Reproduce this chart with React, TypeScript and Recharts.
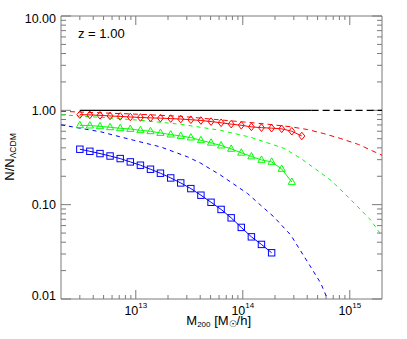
import React from 'react'
import { ComposedChart, Line, XAxis, YAxis, ReferenceArea, ReferenceLine } from 'recharts'

// halo mass bins (M200 in Msun/h) for the simulation points
const mass = [
  3.0e12, 3.72e12, 4.63e12, 5.75e12, 7.15e12, 8.89e12, 1.105e13, 1.372e13,
  1.7e13, 2.12e13, 2.63e13, 3.27e13, 4.06e13, 5.05e13, 6.27e13, 7.79e13,
  9.68e13, 1.203e14, 1.494e14, 1.86e14, 2.31e14, 2.87e14, 3.56e14,
]
const ratioRed = [
  0.9, 0.895, 0.885, 0.872, 0.862, 0.85, 0.84, 0.832, 0.826, 0.818, 0.808, 0.795,
  0.78, 0.76, 0.738, 0.714, 0.694, 0.668, 0.655, 0.647, 0.637, 0.6, 0.535,
]
const ratioGreen = [
  0.694, 0.689, 0.677, 0.661, 0.645, 0.634, 0.614, 0.6, 0.575, 0.553, 0.535,
  0.514, 0.481, 0.453, 0.423, 0.39, 0.355, 0.324, 0.298, 0.284, 0.239, 0.174,
]
const ratioBlue = [
  0.387, 0.368, 0.348, 0.328, 0.308, 0.284, 0.262, 0.2375, 0.2155, 0.192,
  0.17, 0.148, 0.126, 0.106, 0.089, 0.0725, 0.0574, 0.0456, 0.0379, 0.0309,
]

// analytic predictions (dashed)
const predRedM = [2.0e12, 4.7e12, 1.11e13, 2.64e13, 5.36e13, 7.73e13, 1.57e14, 2.81e14, 4.05e14, 5.71e14, 8.24e14, 1.21e15, 2.0e15]
const predRedN = [0.976, 0.941, 0.907, 0.864, 0.803, 0.774, 0.72, 0.669, 0.625, 0.567, 0.502, 0.434, 0.334]
const predGreenM = [2.0e12, 4.7e12, 1.11e13, 2.64e13, 6.2e13, 1.19e14, 2.42e14, 3.48e14, 4.81e14, 6.64e14, 8.79e14, 1.19e15, 1.57e15, 2.0e15]
const predGreenN = [0.896, 0.843, 0.784, 0.711, 0.614, 0.518, 0.396, 0.31, 0.2375, 0.1816, 0.134, 0.0948, 0.0686, 0.0464]
const predBlueM = [2.0e12, 4.7e12, 9.57e12, 1.71e13, 3.06e13, 4.05e13, 6.22e13, 1.107e14, 1.466e14, 1.95e14, 2.81e14, 3.48e14, 4.32e14, 5.36e14, 6.19e14]
const predBlueN = [0.702, 0.592, 0.4815, 0.409, 0.3205, 0.275, 0.205, 0.1314, 0.0988, 0.0743, 0.0476, 0.0322, 0.0218, 0.01466, 0.01]

const refSolidM = [3.0e12, 4.4e14]
const refDashM = [4.4e14, 2.0e15]
const refN = [1, 1]

const xMajor = [1e13, 1e14, 1e15]
const xMinor = [
  3e12, 4e12, 5e12, 6e12, 7e12, 8e12, 9e12,
  2e13, 3e13, 4e13, 5e13, 6e13, 7e13, 8e13, 9e13,
  2e14, 3e14, 4e14, 5e14, 6e14, 7e14, 8e14, 9e14,
]
const yMajor = [0.01, 0.1, 1, 10]
const yLabels = ['0.01', '0.10', '1.00', '10.00']
const yMinor = [
  0.02, 0.03, 0.04, 0.05, 0.06, 0.07, 0.08, 0.09,
  0.2, 0.3, 0.4, 0.5, 0.6, 0.7, 0.8, 0.9,
  2, 3, 4, 5, 6, 7, 8, 9,
]

const pts = (ms: number[], vs: number[]) => vs.map((v, i) => ({ m: ms[i], v }))

const gray = '#7a7a7a'
const font = '"Liberation Sans", Arial, sans-serif'

function XLabel(props: any) {
  const { x, y, payload } = props
  return (
    <text x={x} y={Number(y) + 16} textAnchor="middle" fontFamily={font} fontSize={12.5} fill="#000">
      10
      <tspan dy={-7} fontSize={8}>
        {Math.round(Math.log10(payload.value))}
      </tspan>
    </text>
  )
}

function YLabel(props: any) {
  const { x, y, payload } = props
  const i = yMajor.indexOf(payload.value)
  let off = 4.5
  if (i === 0) off = 0.5
  if (i === yMajor.length - 1) off = 6.5
  return (
    <text x={Number(x) - 5} y={Number(y) + off} textAnchor="end" fontFamily={font} fontSize={12.5} fill="#000">
      {yLabels[i]}
    </text>
  )
}

// inward tick marks at both ends of a reference line spanning the plot
const xTickShape = (len: number) => (p: any) => {
  const top = Math.min(p.y1, p.y2)
  const bot = Math.max(p.y1, p.y2)
  return <path d={`M${p.x1},${top}V${top + len}M${p.x1},${bot}V${bot - len}`} stroke={gray} strokeWidth={1} fill="none" />
}
const yTickShape = (len: number) => (p: any) => {
  const left = Math.min(p.x1, p.x2)
  const right = Math.max(p.x1, p.x2)
  return <path d={`M${left},${p.y1}H${left + len}M${right},${p.y1}H${right - len}`} stroke={gray} strokeWidth={1} fill="none" />
}

const square = (color: string) => (p: any) => (
  <rect key={p.index} x={p.cx - 3.2} y={p.cy - 3.2} width={6.4} height={6.4} fill="none" stroke={color} strokeWidth={1} />
)
const triangle = (color: string) => (p: any) => (
  <path
    key={p.index}
    d={`M${p.cx},${p.cy - 4} L${p.cx + 3.6},${p.cy + 2.4} L${p.cx - 3.6},${p.cy + 2.4} Z`}
    fill="none"
    stroke={color}
    strokeWidth={1}
  />
)
const diamond = (color: string) => (p: any) => (
  <path
    key={p.index}
    d={`M${p.cx},${p.cy - 3.8} L${p.cx + 3},${p.cy} L${p.cx},${p.cy + 3.8} L${p.cx - 3},${p.cy} Z`}
    fill="none"
    stroke={color}
    strokeWidth={1}
  />
)

export default function App() {
  return (
    <div style={{ position: 'absolute', left: 0, top: 0, width: 407, height: 339, background: '#fff' }}>
      <svg width={407} height={339} style={{ position: 'absolute', left: 0, top: 0 }}>
        <text x={78} y={38} fontFamily={font} fontSize={13} fill="#000">
          z = 1.00
        </text>
        <text x={218.7} y={324.5} textAnchor="middle" fontFamily={font} fontSize={13} fill="#000">
          M<tspan dy={2.5} fontSize={8}>200</tspan>
          <tspan dy={-2.5}> [M</tspan>
          <tspan dy={2.5} fontSize={9}>☉</tspan>
          <tspan dy={-2.5}>/h]</tspan>
        </text>
        <text
          transform="translate(13.5,157) rotate(-90)"
          textAnchor="middle"
          fontFamily={font}
          fontSize={13}
          fill="#000"
        >
          N/N<tspan dy={2.5} fontSize={8.5}>ΛCDM</tspan>
        </text>
      </svg>
      <ComposedChart width={407} height={339} margin={{ top: 16, right: 25, bottom: 0, left: 0 }}>
        <XAxis
          dataKey="m"
          type="number"
          scale="log"
          domain={[2e12, 2e15]}
          allowDataOverflow
          ticks={xMajor}
          tick={XLabel}
          tickSize={0}
          tickMargin={0}
          tickLine={false}
          height={40}
          axisLine={false}
          interval={0}
        />
        <YAxis
          type="number"
          scale="log"
          domain={[0.01, 10]}
          allowDataOverflow
          ticks={yMajor}
          tick={YLabel}
          tickSize={0}
          tickMargin={0}
          tickLine={false}
          width={61}
          axisLine={false}
          interval={0}
        />
        <ReferenceArea x1={2e12} x2={2e15} y1={0.01} y2={10} fill="none" stroke={gray} strokeWidth={1} ifOverflow="visible" />
        {xMinor.map((m) => (
          <ReferenceLine key={`xm${m}`} x={m} shape={xTickShape(4)} ifOverflow="visible" />
        ))}
        {xMajor.map((m) => (
          <ReferenceLine key={`xM${m}`} x={m} shape={xTickShape(9)} ifOverflow="visible" />
        ))}
        {yMinor.map((v) => (
          <ReferenceLine key={`ym${v}`} y={v} shape={yTickShape(5)} ifOverflow="visible" />
        ))}
        {yMajor.map((v) => (
          <ReferenceLine key={`yM${v}`} y={v} shape={yTickShape(10)} ifOverflow="visible" />
        ))}

        <Line data={pts(refDashM, refN)} dataKey="v" stroke="#000" strokeWidth={1.3} strokeDasharray="7 4" dot={false} isAnimationActive={false} />
        <Line data={pts(predBlueM, predBlueN)} dataKey="v" stroke="#0000ff" strokeWidth={1} strokeDasharray="4 4" dot={false} isAnimationActive={false} />
        <Line data={pts(predGreenM, predGreenN)} dataKey="v" stroke="#00ff00" strokeWidth={1} strokeDasharray="4 4" dot={false} isAnimationActive={false} />
        <Line data={pts(predRedM, predRedN)} dataKey="v" stroke="#ff0000" strokeWidth={1} strokeDasharray="5 4" dot={false} isAnimationActive={false} />
        <Line data={pts(refSolidM, refN)} dataKey="v" stroke="#000" strokeWidth={1.3} dot={false} isAnimationActive={false} />
        <Line data={pts(mass, ratioBlue)} dataKey="v" stroke="#0000ff" strokeWidth={1} dot={square('#0000ff')} isAnimationActive={false} />
        <Line data={pts(mass, ratioGreen)} dataKey="v" stroke="#00ff00" strokeWidth={1} dot={triangle('#00ff00')} isAnimationActive={false} />
        <Line data={pts(mass, ratioRed)} dataKey="v" stroke="#ff0000" strokeWidth={1} dot={diamond('#ff0000')} isAnimationActive={false} />
      </ComposedChart>
    </div>
  )
}
